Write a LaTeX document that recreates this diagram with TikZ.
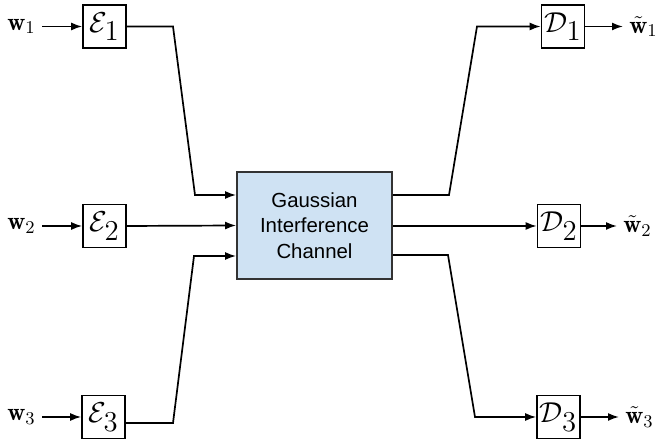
\documentclass[tikz,border=0pt]{standalone}
\usepackage{fontspec}
\newfontfamily\chanfont{Liberation Sans}
\usetikzlibrary{arrows.meta}
\definecolor{chanfill}{HTML}{CFE2F3}
\definecolor{chanedge}{HTML}{333333}
\begin{document}
\begin{tikzpicture}[x=0.5pt,y=-0.5pt,
  blk/.style={draw, line width=0.8pt, minimum size=21.5pt, inner sep=0pt,
    font=\fontsize{14.4}{16}\selectfont},
  lbl/.style={inner xsep=3pt, inner ysep=0pt, font=\fontsize{12.5}{14}\selectfont},
  wire/.style={line width=0.85pt},
  arr/.style={wire, -{Latex[length=5.5pt,width=4pt]}},
]
\useasboundingbox (0,0) rectangle (665,442);

% encoders
\node[blk] (e1) at (104.5,26.5) {$\mathcal{E}_{\textstyle 1}$};
\node[blk] (e2) at (104.5,226) {$\mathcal{E}_{\textstyle 2}$};
\node[blk] (e3) at (103.5,417) {$\mathcal{E}_{\textstyle 3}$};

% messages
\node[lbl, anchor=east] (w1) at (42,26.5) {$\mathbf{w}_1$};
\node[lbl, anchor=east] (w2) at (42,226) {$\mathbf{w}_2$};
\node[lbl, anchor=east] (w3) at (42,417) {$\mathbf{w}_3$};

% channel
\node[draw=chanedge, fill=chanfill, line width=0.9pt,
  minimum width=77.5pt, minimum height=53.5pt, inner sep=0pt, align=center,
  font=\chanfont\fontsize{10.2}{12.8}\selectfont] (ch) at (314.5,225.5)
  {Gaussian\\Interference\\Channel};

% decoders
\node[blk] (d1) at (563,26.5) {$\mathcal{D}_{\textstyle 1}$};
\node[blk] (d2) at (559,226) {$\mathcal{D}_{\textstyle 2}$};
\node[blk] (d3) at (558.5,417) {$\mathcal{D}_{\textstyle 3}$};

% estimates
\node[lbl, anchor=west] (v1) at (623,26.5) {$\tilde{\mathbf{w}}_1$};
\node[lbl, anchor=west] (v2) at (617,226) {$\tilde{\mathbf{w}}_2$};
\node[lbl, anchor=west] (v3) at (619,417) {$\tilde{\mathbf{w}}_3$};

% channel ports
\coordinate (ci1) at ([yshift=15.25pt]ch.west);
\coordinate (ci3) at ([yshift=-15.25pt]ch.west);
\coordinate (co1) at ([yshift=15.25pt]ch.east);
\coordinate (co2) at ([yshift=-0.25pt]ch.east);
\coordinate (co3) at ([yshift=-14.75pt]ch.east);

% bends
\coordinate (a1) at (173,26.5);
\coordinate (a2) at (195,195);
\coordinate (a3) at (173,423);
\coordinate (a4) at (194,256);
\coordinate (r1) at (449,195);
\coordinate (r2) at (477,26.5);
\coordinate (r3) at (448,255);
\coordinate (r4) at (475,417);

% inputs
\draw[arr] (w1.east) -- (e1.west);
\draw[arr] (w2.east) -- (e2.west);
\draw[arr] (w3.east) -- (e3.west);

% encoders to channel
\draw[arr] (e1.east) -- (a1) -- (a2) -- (ci1);
\draw[arr] (e2.east) -- (ch.west);
\draw[arr] ([yshift=-3pt]e3.east) -- (a3) -- (a4) -- (ci3);

% channel to decoders
\draw[arr] (co1) -- (r1) -- (r2) -- (d1.west);
\draw[arr] (co2) -- (d2.west);
\draw[arr] (co3) -- (r3) -- (r4) -- (d3.west);

% outputs
\draw[arr] (d1.east) -- (v1.west);
\draw[arr] (d2.east) -- (v2.west);
\draw[arr] (d3.east) -- (v3.west);
\end{tikzpicture}
\end{document}
